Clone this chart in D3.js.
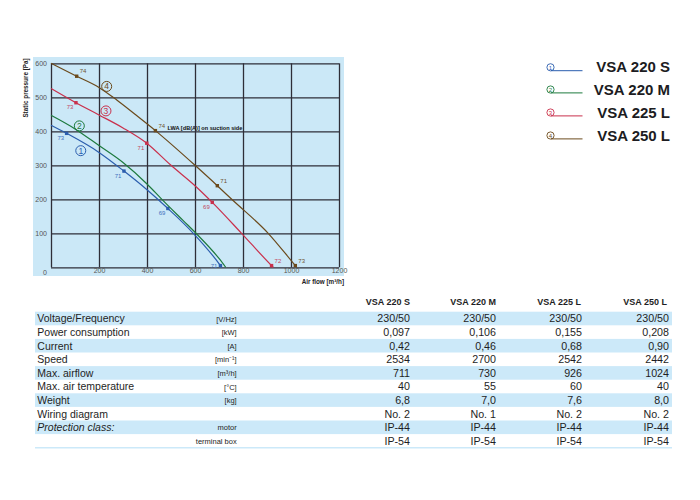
<!DOCTYPE html>
<html><head><meta charset="utf-8">
<script src="https://cdn.jsdelivr.net/npm/d3@7"></script>
<style>html,body{margin:0;padding:0;background:#fff;} svg{display:block;font-family:Arial,"Liberation Sans",sans-serif;}</style>
</head><body>
<script>
// ---- data ----
const models = ["VSA 220 S","VSA 220 M","VSA 225 L","VSA 250 L"];
const flowS = [0,65,200,304,400,487,593,706,711];
const presS = [418,394,338,283,228,173,100,5,0];
const flowM = [0,100,200,300,400,462,550,607,700,728];
const presM = [447,407,358,308,245,200,138,98,26,0];
const flow225 = [0,104,200,300,399,500,600,672,794,919,926];
const pres225 = [526,484,448,410,365,300,240,191,100,5,0];
const flow250 = [0,107,200,274,350,435,600,693,753,905,1018,1024];
const pres250 = [600,562,529,492,450,402,300,240,200,100,5,0];
// marked noise points [airflow, pressure, LWA]
const markS = [[65,394,"73"],[304,283,"71"],[487,173,"69"],[706,5,"71"]];
const markM = [];
const mark225 = [[104,484,"73"],[399,365,"71"],[672,191,"69"],[919,5,"72"]];
const mark250 = [[107,562,"74"],[435,402,"74"],[693,240,"71"],[1018,5,"73"]];
// circled curve numbers [airflow, pressure]
const badgePos = [[124,343],[118,416],[229,460],[232,532]];
const xTicks = [0,200,400,600,800,1000,1200];
const yTicks = [100,200,300,400,500,600];
// table
const rowLabels = ["Voltage/Frequency","Power consumption","Current","Speed","Max. airflow","Max. air temperature","Weight","Wiring diagram","Protection class:",""];
const rowUnits = ["[V/Hz]","[kW]","[A]","[min\u207B\u00B9]","[m\u00B3/h]","[\u00B0C]","[kg]","","motor","terminal box"];
const valS = ["230/50","0,097","0,42","2534","711","40","6,8","No. 2","IP-44","IP-54"];
const valM = ["230/50","0,106","0,46","2700","730","55","7,0","No. 1","IP-44","IP-54"];
const val225 = ["230/50","0,155","0,68","2542","926","60","7,6","No. 2","IP-44","IP-54"];
const val250 = ["230/50","0,208","0,90","2442","1024","40","8,0","No. 2","IP-44","IP-54"];

const colors = ["#2b5eae","#1d7a3e","#c9304c","#6b4a1c"];
const labelColors = ["#3f6fbd","#2a8a4a","#c2465e","#6e5330"];

const svg = d3.select("body").append("svg").attr("width",700).attr("height",500);
svg.append("rect").attr("width",700).attr("height",500).attr("fill","#fff");

// ---- chart ----
const x = d3.scaleLinear().domain([0,1200]).range([51,339]);
const y = d3.scaleLinear().domain([0,600]).range([267.3,63.3]);
svg.append("rect").attr("x",33).attr("y",57).attr("width",311).attr("height",219).attr("fill","#cbe8f7");

const g = svg.append("g");
// grid
g.append("g").attr("transform",`translate(0,${y(0)})`)
  .call(d3.axisBottom(x).tickValues(xTicks).tickSize(-(y(0)-y(600))).tickFormat(""))
  .call(a=>a.select(".domain").remove())
  .call(a=>a.selectAll("line").attr("stroke","#2e2e38").attr("stroke-width",1.3));
g.append("g").attr("transform",`translate(${x(0)},0)`)
  .call(d3.axisLeft(y).tickValues([0].concat(yTicks)).tickSize(-(x(1200)-x(0))).tickFormat(""))
  .call(a=>a.select(".domain").remove())
  .call(a=>a.selectAll("line").attr("stroke","#2e2e38").attr("stroke-width",1.3));

// tick labels
g.append("g").attr("transform",`translate(${x(0)-4},0)`)
  .call(d3.axisLeft(y).tickValues(yTicks).tickSize(0).tickPadding(0).tickFormat(d3.format("d")))
  .call(a=>a.select(".domain").remove())
  .call(a=>a.selectAll("text").attr("font-size",7).attr("fill","#555").attr("font-family","Arial"));
g.append("g").attr("transform",`translate(0,${y(0)+1})`)
  .call(d3.axisBottom(x).tickValues(xTicks.slice(1)).tickSize(0).tickPadding(0).tickFormat(d3.format("d")))
  .call(a=>a.select(".domain").remove())
  .call(a=>a.selectAll("text").attr("font-size",7).attr("fill","#555").attr("font-family","Arial"));
g.append("text").attr("x",x(0)-6).attr("y",y(0)+7.5).attr("text-anchor","middle")
  .attr("font-size",7).attr("fill","#555").text("0");

g.append("text").attr("transform","translate(27.5,88) rotate(-90)").attr("text-anchor","middle")
  .attr("font-size",6.3).attr("font-weight","bold").attr("fill","#222").text("Static pressure [Pa]");
g.append("text").attr("x",344).attr("y",283.5).attr("text-anchor","end")
  .attr("font-size",6.3).attr("font-weight","bold").attr("fill","#222").text("Air flow [m\u00B3/h]");

// curves
const series = [[flowS,presS,markS],[flowM,presM,markM],[flow225,pres225,mark225],[flow250,pres250,mark250]];
const line = d3.line().x(d=>x(d[0])).y(d=>y(d[1])).curve(d3.curveMonotoneX);
series.forEach((s,i)=>{
  const pts = s[0].map((f,j)=>[f,s[1][j]]);
  g.append("path").attr("d",line(pts)).attr("fill","none").attr("stroke",colors[i]).attr("stroke-width",1.2);
  s[2].forEach((m,k)=>{
    g.append("rect").attr("x",x(m[0])-1.7).attr("y",y(m[1])-1.7).attr("width",3.4).attr("height",3.4).attr("fill",colors[i]);
    let dx, dy, anchor;
    if (i===3 || (i===2 && k===3)) { dx=3; dy=-3; anchor="start"; }
    else if (k===3) { dx=-3; dy=2; anchor="end"; }
    else { dx=-2.5; dy=6.5; anchor="end"; }
    g.append("text").attr("x",x(m[0])+dx).attr("y",y(m[1])+dy).attr("text-anchor",anchor)
      .attr("font-size",6).attr("fill",labelColors[i]).text(m[2]);
  });
});
g.append("text").attr("x",x(435)+12).attr("y",y(402)-0.5)
  .attr("font-size",5.6).attr("font-weight","bold").attr("fill","#111").text("LWA [dB(A)] on suction side");

// circled numbers
badgePos.forEach((b,i)=>{
  g.append("circle").attr("cx",x(b[0])).attr("cy",y(b[1])).attr("r",5).attr("fill","none").attr("stroke",colors[i]).attr("stroke-width",1);
  g.append("text").attr("x",x(b[0])).attr("y",y(b[1])+3).attr("text-anchor","middle")
    .attr("font-size",8.5).attr("fill",colors[i]).text(i+1);
});

// ---- legend ----
const legBase = [72.3,94.5,117.5,140.5];
models.forEach((m,i)=>{
  const cy = legBase[i]-5;
  svg.append("circle").attr("cx",550.5).attr("cy",cy).attr("r",3.6).attr("fill","none").attr("stroke",colors[i]).attr("stroke-width",0.9);
  svg.append("text").attr("x",550.5).attr("y",cy+2.2).attr("text-anchor","middle").attr("font-size",6).attr("fill",colors[i]).text(i+1);
  svg.append("line").attr("x1",551).attr("x2",582.5).attr("y1",legBase[i]-1.6).attr("y2",legBase[i]-1.6).attr("stroke",colors[i]).attr("stroke-width",1);
  svg.append("text").attr("x",670).attr("y",legBase[i]).attr("text-anchor","end")
    .attr("font-size",15).attr("font-weight","bold").attr("fill","#1c1c22").text(m);
});

// ---- table ----
const colRight = [410,496,582,669];
const headRight = [410,496,581,667];
const vals = [valS,valM,val225,val250];
const rowTop = d3.scaleLinear().domain([0,10]).range([311.7,447.7]);
const t = svg.append("g");
rowLabels.forEach((lab,i)=>{
  const top = rowTop(i), h = rowTop(i+1)-rowTop(i);
  if (i%2===0) t.append("rect").attr("x",35).attr("y",top).attr("width",637).attr("height",h).attr("fill","#cce9f9");
  const base = top+10.6;
  t.append("text").attr("x",37.3).attr("y",base).attr("font-size",10.5).attr("fill","#1e1e24")
    .attr("font-style",i===8?"italic":"normal").text(lab);
  t.append("text").attr("x",236.7).attr("y",base-0.8).attr("text-anchor","end").attr("font-size",7.5).attr("fill","#1e1e24").text(rowUnits[i]);
  vals.forEach((v,c)=>{
    t.append("text").attr("x",colRight[c]).attr("y",base).attr("text-anchor","end").attr("font-size",10.7).attr("fill","#1e1e24").text(v[i]);
  });
});
t.append("line").attr("x1",35).attr("x2",672).attr("y1",rowTop(10)).attr("y2",rowTop(10)).attr("stroke","#cce9f9").attr("stroke-width",1.5);
models.forEach((m,c)=>{
  t.append("text").attr("x",headRight[c]).attr("y",305).attr("text-anchor","end").attr("font-size",9).attr("font-weight","bold").attr("fill","#1e1e24").text(m);
});
</script>
</body></html>
